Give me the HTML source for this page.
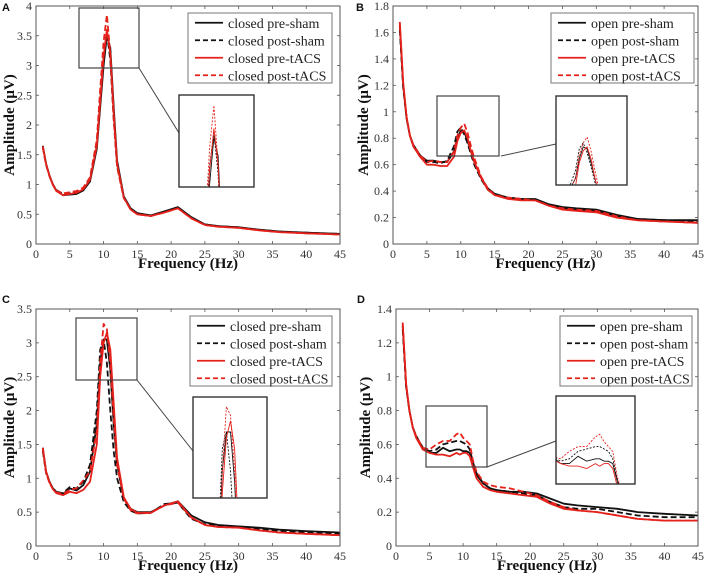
<!DOCTYPE html>
<html><head><meta charset="utf-8"><style>
html,body{margin:0;background:#fff;width:708px;height:578px;overflow:hidden}
svg{display:block}
.tick{font-family:"Liberation Serif",serif;font-size:12px;fill:#333}
.atitle{font-family:"Liberation Serif",serif;font-size:15px;font-weight:bold;fill:#111}
.leg{font-family:"Liberation Serif",serif;font-size:14px;fill:#222}
.plab{font-family:"Liberation Sans",sans-serif;font-size:11px;font-weight:bold;fill:#111}
</style></head><body>
<svg id="fig" width="708" height="578" viewBox="0 0 708 578" xmlns="http://www.w3.org/2000/svg"></svg>
<script>
const freqs=[1,1.5,2,2.5,3,4,5,6,7,8,9,9.5,10,10.5,11,11.5,12,13,14,15,17,19,21,23,25,27,30,33,36,40,45];
const xTicks=[0,5,10,15,20,25,30,35,40,45];
const seriesNamesClosed=["closed pre-sham","closed post-sham","closed pre-tACS","closed post-tACS"];
const seriesNamesOpen=["open pre-sham","open post-sham","open pre-tACS","open post-tACS"];
const aPreSham=[1.65,1.35,1.15,1.0,0.9,0.82,0.83,0.84,0.9,1.05,1.6,2.3,3.0,3.5,3.3,2.3,1.4,0.8,0.6,0.52,0.48,0.55,0.62,0.45,0.33,0.3,0.28,0.24,0.21,0.19,0.17];
const aPostSham=[1.62,1.33,1.14,1.0,0.91,0.84,0.86,0.87,0.93,1.1,1.7,2.5,3.2,3.55,3.1,2.1,1.3,0.78,0.59,0.51,0.47,0.54,0.61,0.44,0.33,0.3,0.28,0.24,0.21,0.19,0.17];
const aPreTacs=[1.64,1.34,1.14,0.99,0.89,0.82,0.84,0.86,0.92,1.08,1.65,2.4,3.15,3.6,3.2,2.2,1.35,0.78,0.58,0.5,0.47,0.53,0.6,0.43,0.32,0.29,0.27,0.23,0.2,0.18,0.16];
const aPostTacs=[1.63,1.33,1.15,1.0,0.9,0.85,0.87,0.89,0.95,1.12,1.75,2.6,3.4,3.85,3.2,2.1,1.3,0.77,0.58,0.5,0.47,0.53,0.6,0.43,0.32,0.29,0.27,0.23,0.2,0.18,0.16];
const aYTicks=[0,0.5,1,1.5,2,2.5,3,3.5,4];
const bPreSham=[1.65,1.2,0.95,0.82,0.75,0.67,0.63,0.63,0.62,0.62,0.7,0.8,0.86,0.85,0.78,0.7,0.62,0.5,0.42,0.38,0.35,0.34,0.34,0.3,0.28,0.27,0.26,0.22,0.19,0.18,0.18];
const bPostSham=[1.62,1.18,0.95,0.82,0.74,0.66,0.62,0.62,0.61,0.63,0.74,0.85,0.88,0.83,0.76,0.68,0.6,0.49,0.41,0.37,0.35,0.34,0.33,0.29,0.27,0.26,0.25,0.21,0.19,0.18,0.17];
const bPreTacs=[1.68,1.22,0.96,0.82,0.74,0.66,0.6,0.6,0.59,0.59,0.66,0.78,0.84,0.86,0.8,0.7,0.62,0.5,0.41,0.37,0.34,0.33,0.33,0.29,0.26,0.25,0.24,0.2,0.18,0.17,0.16];
const bPostTacs=[1.66,1.21,0.96,0.82,0.75,0.67,0.62,0.63,0.62,0.62,0.7,0.82,0.88,0.91,0.84,0.74,0.65,0.51,0.42,0.37,0.35,0.34,0.33,0.29,0.27,0.26,0.25,0.21,0.18,0.17,0.16];
const bYTicks=[0,0.2,0.4,0.6,0.8,1,1.2,1.4,1.6,1.8];
const cPreSham=[1.45,1.1,0.95,0.85,0.8,0.77,0.85,0.82,0.9,1.1,1.8,2.7,3.05,3.05,2.6,1.8,1.2,0.7,0.55,0.5,0.5,0.6,0.66,0.45,0.35,0.31,0.29,0.27,0.24,0.22,0.2];
const cPostSham=[1.4,1.08,0.94,0.85,0.8,0.78,0.87,0.85,0.95,1.2,2.0,2.9,3.05,2.7,2.0,1.4,1.0,0.65,0.52,0.48,0.49,0.62,0.64,0.4,0.32,0.3,0.28,0.25,0.22,0.2,0.18];
const cPreTacs=[1.45,1.1,0.94,0.84,0.78,0.75,0.8,0.78,0.83,0.95,1.5,2.5,3.0,3.15,2.9,2.1,1.3,0.72,0.55,0.49,0.49,0.6,0.66,0.42,0.31,0.28,0.27,0.23,0.2,0.18,0.16];
const cPostTacs=[1.42,1.08,0.93,0.84,0.79,0.77,0.83,0.85,0.97,1.1,1.7,2.7,3.28,3.2,2.7,1.9,1.2,0.7,0.53,0.48,0.49,0.6,0.64,0.42,0.31,0.28,0.27,0.23,0.2,0.18,0.16];
const cYTicks=[0,0.5,1,1.5,2,2.5,3,3.5];
const dPreSham=[1.3,0.95,0.8,0.7,0.65,0.58,0.55,0.55,0.58,0.56,0.57,0.57,0.56,0.56,0.55,0.48,0.42,0.37,0.34,0.33,0.32,0.32,0.31,0.28,0.25,0.24,0.23,0.22,0.2,0.19,0.18];
const dPostSham=[1.28,0.94,0.8,0.7,0.65,0.58,0.56,0.57,0.6,0.61,0.62,0.62,0.61,0.6,0.57,0.49,0.43,0.37,0.34,0.33,0.32,0.31,0.3,0.26,0.23,0.22,0.22,0.2,0.18,0.17,0.17];
const dPreTacs=[1.32,0.96,0.8,0.7,0.64,0.57,0.55,0.54,0.54,0.53,0.55,0.54,0.55,0.55,0.53,0.46,0.4,0.35,0.33,0.32,0.31,0.3,0.29,0.25,0.22,0.21,0.2,0.18,0.16,0.15,0.15];
const dPostTacs=[1.31,0.95,0.8,0.7,0.65,0.58,0.57,0.6,0.62,0.62,0.66,0.67,0.64,0.62,0.6,0.5,0.44,0.38,0.36,0.35,0.34,0.32,0.3,0.26,0.23,0.21,0.2,0.18,0.16,0.15,0.15];
const dYTicks=[0,0.2,0.4,0.6,0.8,1,1.2,1.4];

const NS="http://www.w3.org/2000/svg";
const svg=document.getElementById('fig');
function mk(tag,attrs,parent){const e=document.createElementNS(NS,tag);for(const k in attrs)e.setAttribute(k,attrs[k]);(parent||svg).appendChild(e);return e;}
const styles=[{c:"#111",d:null},{c:"#111",d:"6 3"},{c:"#e5211b",d:null},{c:"#e5211b",d:"6 3"}];

function panel(p){
  const g=mk('g',{});
  
  
  const xs=v=>p.L+(v-0)/45*(p.R-p.L);
  const ys=v=>p.B-(v/p.ymax)*(p.B-p.T);
  const clipId='clip'+p.id;
  const cp=mk('clipPath',{id:clipId},g);mk('rect',{x:p.L,y:p.T,width:p.R-p.L,height:p.B-p.T},cp);
  xTicks.forEach(t=>{
    const x=xs(t);
    mk('line',{x1:x,y1:p.B,x2:x,y2:p.B-3,stroke:"#555","stroke-width":0.8},g);
    mk('line',{x1:x,y1:p.T,x2:x,y2:p.T+3,stroke:"#555","stroke-width":0.8},g);
    const tx=mk('text',{x:x,y:p.B+14,"text-anchor":"middle",class:"tick"},g);tx.textContent=t;
    
    
  });
  p.yt.forEach(t=>{
    const y=ys(t);
    mk('line',{x1:p.L,y1:y,x2:p.L+3,y2:y,stroke:"#555","stroke-width":0.8},g);
    mk('line',{x1:p.R,y1:y,x2:p.R-3,y2:y,stroke:"#555","stroke-width":0.8},g);
    const tx=mk('text',{x:p.L-4,y:y+4,"text-anchor":"end",class:"tick"},g);tx.textContent=String(t);
    
    
  });
  const sg=mk('g',{"clip-path":"url(#"+clipId+")"},g);
  p.series.forEach((s,i)=>{
    const d=freqs.map((f,j)=>(j?'L':'M')+xs(f).toFixed(1)+','+ys(s[j]).toFixed(1)).join('');
    const a={d:d,fill:"none",stroke:styles[i].c,"stroke-width":1.8,"stroke-linejoin":"round"};
    if(styles[i].d)a["stroke-dasharray"]=styles[i].d;
    const pa=mk('path',a,sg);
    
    
  });
  const fr=mk('rect',{x:p.L,y:p.T,width:p.R-p.L,height:p.B-p.T,fill:"none",stroke:"#555","stroke-width":1},g);
  
  
  const z=p.zr,ib=p.ib;
  const zr=mk('rect',{x:z[0],y:z[1],width:z[2]-z[0],height:z[3]-z[1],fill:"none",stroke:"#444","stroke-width":1.2},g);
  
  
  mk('line',{x1:p.cn[0],y1:p.cn[1],x2:p.cn[2],y2:p.cn[3],stroke:"#444","stroke-width":1},g);
  const fx0=(z[0]-p.L)/(p.R-p.L)*45,fx1=(z[2]-p.L)/(p.R-p.L)*45;
  const fy1=(p.B-z[1])/(p.B-p.T)*p.ymax,fy0=(p.B-z[3])/(p.B-p.T)*p.ymax;
  const ix=v=>ib[0]+(v-fx0)/(fx1-fx0)*(ib[2]-ib[0]);
  const iy=v=>ib[3]-(v-fy0)/(fy1-fy0)*(ib[3]-ib[1]);
  const icid='iclip'+p.id;
  const icp=mk('clipPath',{id:icid},g);mk('rect',{x:ib[0],y:ib[1],width:ib[2]-ib[0],height:ib[3]-ib[1]},icp);
  mk('rect',{x:ib[0],y:ib[1],width:ib[2]-ib[0],height:ib[3]-ib[1],fill:"#fff"},g);
  const ig=mk('g',{"clip-path":"url(#"+icid+")"},g);
  
  
  p.series.forEach((s,i)=>{
    const d=freqs.map((f,j)=>(j?'L':'M')+ix(f).toFixed(1)+','+iy(s[j]).toFixed(1)).join('');
    const a={d:d,fill:"none",stroke:styles[i].c,"stroke-width":0.9};
    if(styles[i].d)a["stroke-dasharray"]="2 1.5";
    mk('path',a,ig);
  });
  mk('rect',{x:ib[0],y:ib[1],width:ib[2]-ib[0],height:ib[3]-ib[1],fill:"none",stroke:"#333","stroke-width":1.4},g);
  const lg=p.lg;
  const lgg=mk('g',{},g);
  
  
  mk('rect',{x:lg[0],y:lg[1],width:lg[2]-lg[0],height:lg[3]-lg[1],fill:"#fff",stroke:"#777","stroke-width":1},lgg);
  const rh=(lg[3]-lg[1])/4;
  p.names.forEach((n,i)=>{
    const y=lg[1]+rh*(i+0.5)+1;
    const a={x1:lg[0]+7,y1:y,x2:lg[0]+35,y2:y,stroke:styles[i].c,"stroke-width":1.8};
    if(styles[i].d)a["stroke-dasharray"]="5 3";
    mk('line',a,lgg);
    const t=mk('text',{x:lg[0]+40,y:y+5,class:"leg"},lgg);t.textContent=n;
    
    
  });
  const xt=mk('text',{x:(p.L+p.R)/2,y:p.B+24,"text-anchor":"middle",class:"atitle"},g);xt.textContent="Frequency (Hz)";
  
  
  const yt=mk('text',{x:0,y:0,"text-anchor":"middle",class:"atitle",transform:`translate(${p.ytx},${(p.T+p.B)/2}) rotate(-90)`},g);yt.textContent="Amplitude (μV)";
  
  
  const pl=mk('text',{x:p.lx,y:p.ly,class:"plab"},g);pl.textContent=p.id;
  
  
}
panel({id:"A",L:36,R:340,T:6,B:244,ymax:4,yt:aYTicks,series:[aPreSham,aPostSham,aPreTacs,aPostTacs],names:seriesNamesClosed,
  zr:[79,8,139,68],ib:[179,95,254,187],cn:[139,68,179,133],lg:[188,13,332,83],ytx:14,lx:2,ly:11});
panel({id:"B",L:393,R:698,T:6,B:244,ymax:1.8,yt:bYTicks,series:[bPreSham,bPostSham,bPreTacs,bPostTacs],names:seriesNamesOpen,
  zr:[437,96,499,156],ib:[556,96,627,185],cn:[501,156,556,144],lg:[551,13,694,83],ytx:368,lx:356,ly:11});
panel({id:"C",L:36,R:340,T:309,B:546,ymax:3.5,yt:cYTicks,series:[cPreSham,cPostSham,cPreTacs,cPostTacs],names:seriesNamesClosed,
  zr:[76,318,137,380],ib:[193,397,267,498],cn:[137,380,193,451],lg:[190,316,332,386],ytx:14,lx:2,ly:303});
panel({id:"D",L:396,R:698,T:309,B:546,ymax:1.4,yt:dYTicks,series:[dPreSham,dPostSham,dPreTacs,dPostTacs],names:seriesNamesOpen,
  zr:[426,406,487,467],ib:[556,396,635,484],cn:[487,467,556,441],lg:[560,316,692,386],ytx:370,lx:357,ly:303});
</script>
</body></html>
